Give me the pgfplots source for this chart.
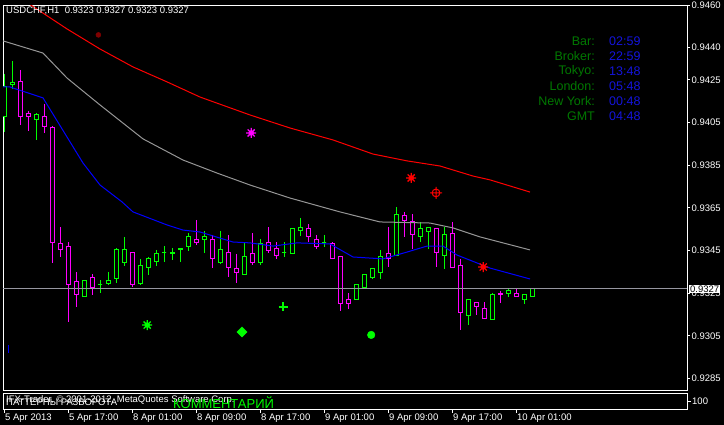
\documentclass[border=0pt]{standalone}
\usepackage{pgfplots}
\pgfplotsset{compat=1.18}
\usepackage{fontspec}
\setmainfont{Liberation Sans}

\definecolor{mtlime}{RGB}{0,255,0}
\definecolor{mtmag}{RGB}{255,0,255}
\definecolor{mtred}{RGB}{255,0,0}
\definecolor{mtblue}{RGB}{0,0,255}
\definecolor{mtgray}{RGB}{150,150,150}
\definecolor{mtline}{RGB}{150,150,160}
\definecolor{mtmaroon}{RGB}{128,0,0}
\definecolor{mtgreen}{RGB}{0,120,0}
\definecolor{mtval}{RGB}{20,20,220}

% 8-spoke star (MT4 arrow)
\pgfdeclareplotmark{star8}{%
  \pgfpathmoveto{\pgfqpoint{0pt}{\pgfplotmarksize}}%
  \pgfpathlineto{\pgfqpoint{0pt}{-\pgfplotmarksize}}%
  \pgfpathmoveto{\pgfqpoint{\pgfplotmarksize}{0pt}}%
  \pgfpathlineto{\pgfqpoint{-\pgfplotmarksize}{0pt}}%
  \pgfpathmoveto{\pgfqpoint{0.707\pgfplotmarksize}{0.707\pgfplotmarksize}}%
  \pgfpathlineto{\pgfqpoint{-0.707\pgfplotmarksize}{-0.707\pgfplotmarksize}}%
  \pgfpathmoveto{\pgfqpoint{-0.707\pgfplotmarksize}{0.707\pgfplotmarksize}}%
  \pgfpathlineto{\pgfqpoint{0.707\pgfplotmarksize}{-0.707\pgfplotmarksize}}%
  \pgfusepathqstroke
  \pgfpathcircle{\pgfpointorigin}{0.4\pgfplotmarksize}%
  \pgfusepathqfillstroke
}
% crosshair circle
\pgfdeclareplotmark{xhair}{%
  \pgfpathcircle{\pgfpointorigin}{0.65\pgfplotmarksize}%
  \pgfpathmoveto{\pgfqpoint{0pt}{\pgfplotmarksize}}%
  \pgfpathlineto{\pgfqpoint{0pt}{-\pgfplotmarksize}}%
  \pgfpathmoveto{\pgfqpoint{\pgfplotmarksize}{0pt}}%
  \pgfpathlineto{\pgfqpoint{-\pgfplotmarksize}{0pt}}%
  \pgfusepathqstroke
}

\newcommand{\tickfont}{\fontsize{9.5}{11}\selectfont}

\begin{document}
\begin{tikzpicture}
\fill[black] (0pt,0pt) rectangle (724pt,-425pt);

\begin{axis}[
  at={(3pt,-390pt)}, anchor=south west, scale only axis,
  width=684pt, height=385pt,
  xmin=-0.125, xmax=85.375, ymin=0.92797, ymax=0.94600,
  axis line style={white, line width=1pt},
  xtick=\empty,
  ytick={0.9460,0.9440,0.9425,0.9405,0.9385,0.9365,0.9345,0.9325,0.9305,0.9285},
  yticklabels={0.9460,0.9440,0.9425,0.9405,0.9385,0.9365,0.9345,0.9325,0.9305,0.9285},
  ytick pos=right, yticklabel pos=right,
  tick align=outside, major tick length=3pt,
  major tick style={white, line width=1pt},
  yticklabel style={font=\tickfont, text=white, inner sep=1.5pt},
  scaled y ticks=false,
]
% candles: index/open/high/low/close/colour
\foreach \bi/\bo/\bh/\bl/\bc/\bcol in {
0/0.94076/0.94277/0.94005/0.94216/mtlime,
1/0.94226/0.94338/0.94207/0.94235/mtlime,
2/0.94244/0.94296/0.94038/0.94080/mtmag,
3/0.94094/0.94104/0.94010/0.94076/mtmag,
4/0.94062/0.94094/0.93968/0.94085/mtlime,
5/0.94076/0.94137/0.94001/0.94029/mtmag,
6/0.94024/0.94034/0.93392/0.93486/mtmag,
7/0.93481/0.93560/0.93420/0.93457/mtmag,
8/0.93471/0.93490/0.93115/0.93289/mtmag,
9/0.93303/0.93350/0.93186/0.93242/mtmag,
10/0.93233/0.93312/0.93233/0.93312/mtlime,
11/0.93322/0.93340/0.93242/0.93279/mtmag,
12/0.93293/0.93312/0.93251/0.93293/mtlime,
13/0.93298/0.93350/0.93289/0.93312/mtlime,
14/0.93317/0.93462/0.93298/0.93453/mtlime,
15/0.93392/0.93514/0.93378/0.93453/mtlime,
16/0.93443/0.93443/0.93279/0.93293/mtmag,
17/0.93298/0.93411/0.93289/0.93382/mtlime,
18/0.93373/0.93420/0.93336/0.93411/mtlime,
19/0.93401/0.93453/0.93378/0.93434/mtlime,
20/0.93443/0.93471/0.93396/0.93443/mtlime,
21/0.93434/0.93462/0.93406/0.93443/mtlime,
22/0.93453/0.93462/0.93396/0.93462/mtlime,
23/0.93467/0.93532/0.93448/0.93514/mtlime,
24/0.93504/0.93593/0.93476/0.93490/mtmag,
25/0.93504/0.93542/0.93439/0.93514/mtlime,
26/0.93504/0.93523/0.93368/0.93411/mtmag,
27/0.93396/0.93542/0.93387/0.93453/mtlime,
28/0.93443/0.93523/0.93326/0.93373/mtmag,
29/0.93364/0.93434/0.93298/0.93345/mtmag,
30/0.93336/0.93490/0.93336/0.93420/mtlime,
31/0.93434/0.93532/0.93382/0.93396/mtmag,
32/0.93392/0.93504/0.93382/0.93481/mtlime,
33/0.93490/0.93560/0.93439/0.93448/mtmag,
34/0.93462/0.93490/0.93411/0.93429/mtmag,
35/0.93443/0.93490/0.93420/0.93443/mtlime,
36/0.93434/0.93551/0.93434/0.93551/mtlime,
37/0.93542/0.93603/0.93518/0.93560/mtlime,
38/0.93551/0.93574/0.93490/0.93514/mtmag,
39/0.93504/0.93523/0.93457/0.93467/mtmag,
40/0.93486/0.93523/0.93467/0.93486/mtlime,
41/0.93481/0.93490/0.93411/0.93411/mtmag,
42/0.93420/0.93420/0.93167/0.93204/mtmag,
43/0.93223/0.93251/0.93176/0.93204/mtmag,
44/0.93223/0.93293/0.93223/0.93293/mtlime,
45/0.93279/0.93340/0.93279/0.93340/mtlime,
46/0.93326/0.93364/0.93317/0.93364/mtlime,
47/0.93345/0.93453/0.93317/0.93420/mtlime,
48/0.93434/0.93560/0.93373/0.93415/mtmag,
49/0.93429/0.93654/0.93429/0.93621/mtlime,
50/0.93612/0.93631/0.93514/0.93589/mtmag,
51/0.93584/0.93621/0.93457/0.93523/mtmag,
52/0.93514/0.93584/0.93490/0.93551/mtlime,
53/0.93537/0.93560/0.93457/0.93560/mtlime,
54/0.93551/0.93551/0.93373/0.93439/mtmag,
55/0.93429/0.93560/0.93364/0.93523/mtlime,
56/0.93532/0.93584/0.93373/0.93373/mtmag,
57/0.93382/0.93411/0.93078/0.93158/mtmag,
58/0.93148/0.93223/0.93101/0.93223/mtlime,
59/0.93209/0.93209/0.93148/0.93186/mtmag,
60/0.93181/0.93209/0.93129/0.93134/mtmag,
61/0.93129/0.93251/0.93129/0.93242/mtlime,
62/0.93251/0.93261/0.93204/0.93242/mtmag,
63/0.93251/0.93270/0.93233/0.93261/mtlime,
64/0.93251/0.93270/0.93233/0.93233/mtmag,
65/0.93223/0.93242/0.93200/0.93242/mtlime,
66/0.93233/0.93270/0.93233/0.93270/mtlime}{
  \pgfmathsetmacro\xa{\bi-0.25}
  \pgfmathsetmacro\xb{\bi+0.25}
  \edef\temp{%
    \noexpand\addplot[\bcol, line width=1pt] coordinates {(\bi,\bh) (\bi,\bl)};
    \noexpand\addplot[draw=\bcol, fill=black, line width=1pt] coordinates
      {(\xa,\bo) (\xb,\bo) (\xb,\bc) (\xa,\bc) (\xa,\bo)};
  }\temp
}

% current price line
\addplot[mtline, line width=1pt] coordinates {(-0.125,0.9327) (85.375,0.9327)};

% moving averages
\addplot[mtred, line width=1pt] coordinates {
(-0.125,0.94685) (3.5,0.94596) (7.875,0.94488) (12,0.94394) (16.125,0.94310)
(20.375,0.94240) (24.5,0.94169) (30.75,0.94085) (35.75,0.94024) (41.125,0.93968)
(46.125,0.93902) (50.375,0.93870) (54.5,0.93846) (58.625,0.93799) (60.75,0.93781)
(65.75,0.93724)};
\addplot[mtgray, line width=1pt] coordinates {
(-0.125,0.94432) (4.875,0.94375) (7.875,0.94258) (12,0.94132) (17.375,0.93973)
(22.375,0.93874) (26.625,0.93813) (30.75,0.93757) (35.75,0.93696) (42,0.93631)
(47,0.93584) (53.25,0.93579) (56.125,0.93556) (59.5,0.93514) (65.75,0.93453)};
\addplot[mtblue, line width=1pt] coordinates {
(-0.125,0.94216) (0.75,0.94216) (4.875,0.94165) (7.875,0.93982) (9.875,0.93860)
(12,0.93757) (14.75,0.93678) (16.125,0.93631) (20.375,0.93570) (22.375,0.93546)
(24.5,0.93537) (28.625,0.93490) (30.75,0.93486) (33.625,0.93471) (36.625,0.93486)
(40.75,0.93481) (43.625,0.93420) (47.375,0.93411) (50.375,0.93443) (52.875,0.93471)
(54.875,0.93471) (56.625,0.93429) (60.75,0.93368) (65.75,0.93317)};

% signal arrows
\addplot[only marks, mark=*, mark size=2.5pt, mtmaroon] coordinates {(11.8,0.94460)};
\addplot[only marks, mark=star8, mark size=5pt, mtmag, line width=1.3pt, mark options={fill=mtmag}] coordinates {(30.9,0.94001)};
\addplot[only marks, mark=star8, mark size=5pt, mtred, line width=1.3pt, mark options={fill=mtred}] coordinates {(50.9,0.93790) (59.9,0.93373)};
\addplot[only marks, mark=xhair, mark size=6pt, mtred, line width=1pt] coordinates {(54,0.93720)};
\addplot[only marks, mark=star8, mark size=5pt, mtlime, line width=1.3pt, mark options={fill=mtlime}] coordinates {(17.9,0.93101)};
\addplot[only marks, mark=square*, mark size=3.6pt, mtlime, mark options={rotate=45}] coordinates {(29.75,0.93069)};
\addplot[only marks, mark=+, mark size=4.5pt, mtlime, line width=2.5pt] coordinates {(34.9,0.93186)};
\addplot[only marks, mark=*, mark size=3.8pt, mtlime] coordinates {(45.9,0.93055)};
\addplot[only marks, mark=|, mark size=4pt, mtblue, line width=1pt] coordinates {(0.5,0.92989)};
\end{axis}

% sub-window with the time axis
\begin{axis}[
  at={(3pt,-409pt)}, anchor=south west, scale only axis,
  width=684pt, height=16pt,
  xmin=-0.125, xmax=85.375, ymin=0, ymax=1,
  axis line style={white, line width=1pt},
  xtick={0,8,16,24,32,40,48,56,64},
  xticklabels={5 Apr 2013,5 Apr 17:00,8 Apr 01:00,8 Apr 09:00,8 Apr 17:00,9 Apr 01:00,9 Apr 09:00,9 Apr 17:00,10 Apr 01:00},
  xtick pos=bottom, xticklabel pos=bottom,
  ytick={0.5}, yticklabels={100}, ytick pos=right, yticklabel pos=right,
  tick align=outside, major tick length=3.5pt,
  major tick style={white, line width=1pt},
  xticklabel style={anchor=north west, font=\tickfont, text=white, inner sep=1pt},
  yticklabel style={font=\tickfont, text=white, inner sep=1.5pt},
]
\end{axis}

% texts
\node[anchor=west, text=white, font=\tickfont, inner sep=0] at (6pt,-11pt)
  {USDCHF,H1\ \ 0.9323 0.9327 0.9323 0.9327};
\foreach \lab/\val/\yy in {Bar:/02:59/41, Broker:/22:59/56, Tokyo:/13:48/71,
  London:/05:48/86, New York:/00:48/101, GMT/04:48/116}{
  \node[anchor=east, text=mtgreen, font=\fontsize{12.5}{14}\selectfont, inner sep=0] at (595pt,-\yy pt) {\lab};
  \node[anchor=west, text=mtval, font=\fontsize{12.5}{14}\selectfont, inner sep=0] at (609pt,-\yy pt) {\val};
}
\node[anchor=west, fill=white, text=black, font=\tickfont, inner sep=1pt] at (689pt,-289pt) {0.9327};
\node[anchor=west, text=white, font=\tickfont, inner sep=0] at (6pt,-400pt)
  {IFX-Trader, © 2001-2012, MetaQuotes Software Corp.};
\node[anchor=west, text=white, font=\tickfont, inner sep=0] at (6pt,-402pt)
  {ПАТТЕРНЫ РАЗВОРОТА};
\node[anchor=west, text=mtlime, font=\fontsize{13}{15}\selectfont, inner sep=0] at (173pt,-403pt)
  {КОММЕНТАРИЙ};

\pgfresetboundingbox
\useasboundingbox (0pt,0pt) rectangle (724pt,-425pt);
\end{tikzpicture}
\end{document}
